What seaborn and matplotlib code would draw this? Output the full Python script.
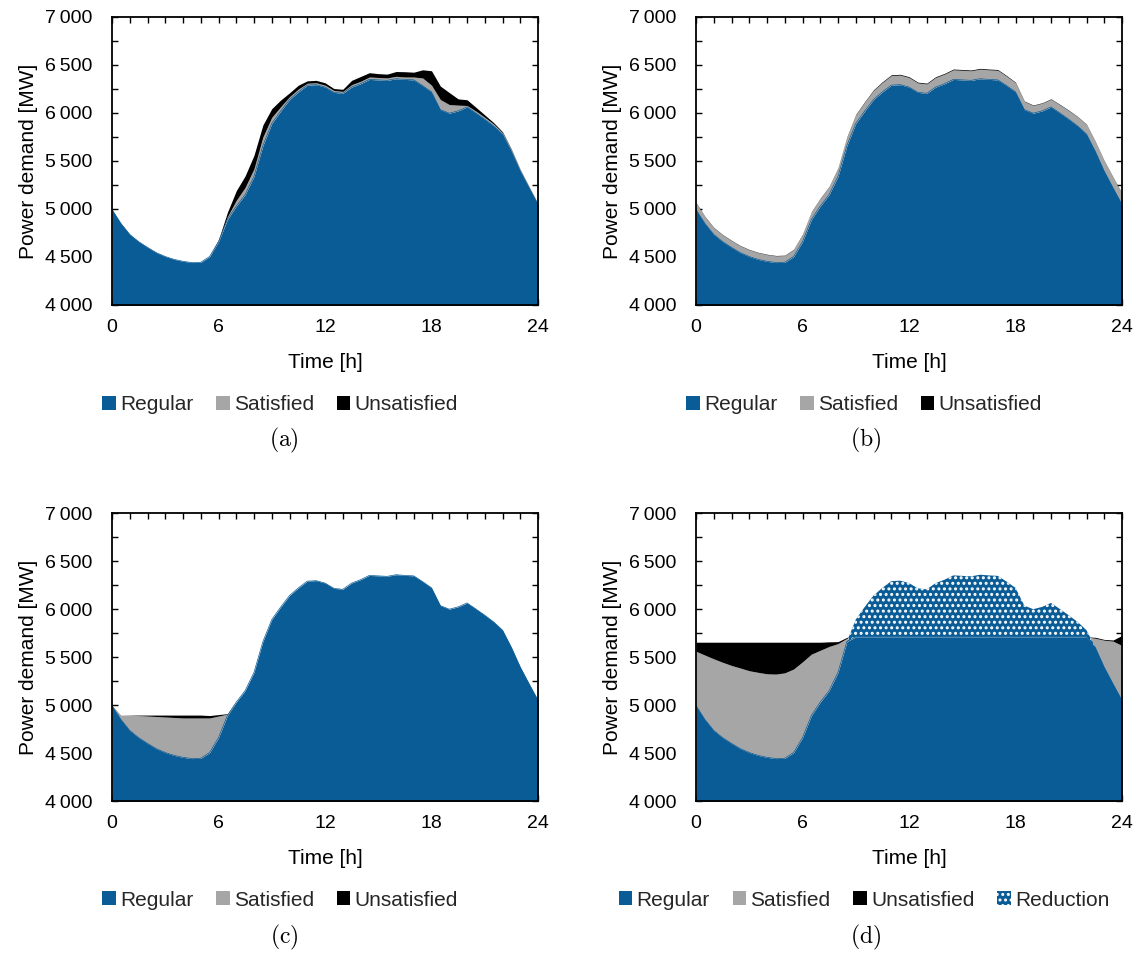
import numpy as np
import pandas as pd
import matplotlib
matplotlib.use("Agg")
import matplotlib.pyplot as plt
import seaborn as sns
from matplotlib.patches import Patch
from matplotlib.ticker import MultipleLocator, FuncFormatter

# Half-hourly time grid [h]
hours = np.arange(0, 24.5, 0.5)

# Regular (inflexible) demand [MW]
regular = [4995, 4850, 4735, 4660, 4600, 4545, 4505, 4475, 4455, 4442, 4445, 4505,
           4660, 4890, 5030, 5150, 5340, 5660, 5890, 6020, 6140, 6220, 6290, 6295,
           6270, 6215, 6205, 6270, 6305, 6350, 6345, 6340, 6357, 6350, 6345, 6285,
           6220, 6035, 5998, 6022, 6063, 6000, 5935, 5865, 5780, 5600, 5395, 5220, 5050]

# Case (a): uncontrolled charging
a_satisfied = [0, 0, 0, 0, 0, 0, 0, 0, 0, 0, 0, 5,
               10, 30, 60, 75, 80, 90, 65, 45, 30, 30, 20, 20,
               20, 20, 20, 25, 25, 25, 25, 25, 25, 25, 30, 80,
               70, 105, 90, 60, 15, 20, 20, 20, 15, 15, 12, 10, 8]
a_unsatisfied = [0, 0, 0, 0, 0, 0, 0, 0, 0, 0, 0, 0,
                 10, 45, 100, 120, 140, 125, 90, 70, 40, 40, 25, 25,
                 25, 20, 22, 45, 50, 45, 40, 40, 50, 55, 50, 85,
                 150, 140, 125, 65, 60, 40, 25, 15, 10, 8, 5, 3, 0]

# Case (b): continuous charging
b_satisfied = [70, 70, 70, 70, 70, 70, 70, 70, 70, 70, 70, 72,
               75, 78, 80, 82, 85, 88, 90, 92, 95, 98, 100, 100,
               100, 98, 98, 100, 100, 100, 100, 100, 100, 100, 100, 98,
               95, 85, 80, 80, 80, 85, 90, 95, 100, 100, 105, 108, 110]
b_unsatisfied = [4, 4, 4, 4, 4, 4, 4, 4, 4, 4, 4, 4,
                 4, 4, 4, 4, 5, 5, 6, 6, 7, 8, 8, 8,
                 8, 8, 8, 8, 8, 8, 8, 8, 8, 8, 8, 7,
                 6, 5, 5, 5, 5, 5, 5, 4, 4, 4, 4, 4, 4]

# Case (c): valley filling
c_satisfied = [0, 45, 158, 230, 285, 335, 370, 395, 410, 423, 420, 360,
               225, 15, 0, 0, 0, 0, 0, 0, 0, 0, 0, 0,
               0, 0, 0, 0, 0, 0, 0, 0, 0, 0, 0, 0,
               0, 0, 0, 0, 0, 0, 0, 0, 0, 0, 0, 0, 0]
c_unsatisfied = [0, 0, 2, 5, 10, 15, 20, 25, 30, 30, 30, 25,
                 15, 5, 0, 0, 0, 0, 0, 0, 0, 0, 0, 0,
                 0, 0, 0, 0, 0, 0, 0, 0, 0, 0, 0, 0,
                 0, 0, 0, 0, 0, 0, 0, 0, 0, 0, 0, 0, 0]

# Case (d): valley filling with peak reduction
d_cap = 5710
d_satisfied = [565, 670, 746, 785, 812, 840, 852, 865, 870, 880, 890, 870,
               790, 640, 540, 460, 300, 35, 0, 0, 0, 0, 0, 0,
               0, 0, 0, 0, 0, 0, 0, 0, 0, 0, 0, 0,
               0, 0, 0, 0, 0, 0, 0, 0, 0, 95, 280, 445, 570]
d_unsatisfied = [94, 134, 173, 209, 242, 269, 297, 314, 329, 332, 319, 279,
                 204, 124, 84, 48, 20, 10, 0, 0, 0, 0, 0, 0,
                 0, 0, 0, 0, 0, 0, 0, 0, 0, 0, 0, 0,
                 0, 0, 0, 0, 0, 0, 0, 0, 0, 10, 8, 12, 105]

y_ticks = [4000, 4500, 5000, 5500, 6000, 6500, 7000]
x_ticks = [0, 6, 12, 18, 24]
layer_names = ["Regular", "Satisfied", "Unsatisfied", "Reduction"]
captions = ["(a)", "(b)", "(c)", "(d)"]

BLUE = "#0a5c96"
GREY = "#a6a6a6"
BLACK = "#000000"

sns.set_theme(style="white")
plt.rcParams["font.family"] = ["Liberation Sans", "DejaVu Sans"]
plt.rcParams["mathtext.fontset"] = "cm"
plt.rcParams["hatch.linewidth"] = 1.4

fig = plt.figure(figsize=(11.4, 9.56), dpi=100)

W, H = 1140, 956
ax_w, ax_h = 426, 288
panel_boxes = [(112, 17), (696, 17), (112, 513), (696, 513)]
legend_pos = [(280, 405), (864, 405), (280, 900), (864, 900)]
caption_pos = [(284, 440), (866, 440), (284, 937), (866, 937)]

cases = [
    (a_satisfied, a_unsatisfied, False),
    (b_satisfied, b_unsatisfied, False),
    (c_satisfied, c_unsatisfied, False),
    (d_satisfied, d_unsatisfied, True),
]

thin = "\u2009"
fmt = FuncFormatter(lambda v, p: f"{int(v):,}".replace(",", thin))

for i, (sat, unsat, with_cap) in enumerate(cases):
    x0, y0 = panel_boxes[i]
    ax = fig.add_axes([x0 / W, 1 - (y0 + ax_h) / H, ax_w / W, ax_h / H])

    df = pd.DataFrame({"hour": hours, "regular": regular,
                       "satisfied": sat, "unsatisfied": unsat})
    if with_cap:
        df["base"] = np.minimum(df["regular"], d_cap)
    else:
        df["base"] = df["regular"]
    df["top_sat"] = df["base"] + df["satisfied"]
    df["top_unsat"] = df["top_sat"] + df["unsatisfied"]

    ax.fill_between(df["hour"], 3000, df["base"], color=BLUE, lw=0, zorder=2)
    ax.fill_between(df["hour"], df["base"], df["top_sat"],
                    color=GREY, lw=0, zorder=2)
    ax.fill_between(df["hour"], df["top_sat"], df["top_unsat"],
                    color=BLACK, lw=0, zorder=2)
    if with_cap:
        ax.fill_between(df["hour"], df["base"], df["regular"],
                        where=df["regular"] > df["base"], interpolate=True,
                        facecolor=BLUE, edgecolor="white", hatch="...",
                        lw=0, zorder=2)
    sns.lineplot(data=df, x="hour", y="base", ax=ax, color=BLUE,
                 lw=0.5, zorder=2.5, legend=False)

    ax.set_xlim(0, 24)
    ax.set_ylim(4000, 7000)
    ax.set_xticks(x_ticks)
    ax.set_yticks(y_ticks)
    ax.xaxis.set_minor_locator(MultipleLocator(1))
    ax.yaxis.set_minor_locator(MultipleLocator(250))
    ax.yaxis.set_major_formatter(fmt)
    ax.tick_params(which="both", direction="in", top=True, right=True,
                   bottom=True, left=True, length=4.5, width=1.0,
                   color="black", labelsize=14, labelcolor="black")
    ax.tick_params(axis="y", which="major", pad=14)
    ax.tick_params(axis="x", which="major", pad=10)
    for s in ax.spines.values():
        s.set_color("black")
        s.set_linewidth(1.3)
        s.set_zorder(5)
    ax.set_xlabel("Time [h]", fontsize=15, color="black", labelpad=12)
    ax.set_ylabel("Power demand [MW]", fontsize=15, color="black", labelpad=5)

    handles = [Patch(facecolor=BLUE, lw=0),
               Patch(facecolor=GREY, lw=0),
               Patch(facecolor=BLACK, lw=0)]
    names = layer_names[:3]
    if with_cap:
        handles.append(Patch(facecolor=BLUE, edgecolor="white", hatch="...", lw=0))
        names = layer_names
    lx, ly = legend_pos[i]
    ax.legend(handles, names, loc="center", bbox_to_anchor=(lx / W, 1 - ly / H),
              bbox_transform=fig.transFigure, ncol=len(names), frameon=False,
              fontsize=15, handlelength=0.65, handleheight=0.65,
              handletextpad=0.2, columnspacing=1.1, borderaxespad=0)

    cx, cy = caption_pos[i]
    fig.text(cx / W, 1 - cy / H, r"$\mathrm{" + captions[i] + "}$",
             ha="center", va="center", fontsize=17, color="black")

fig.savefig("out.png", dpi=100)
